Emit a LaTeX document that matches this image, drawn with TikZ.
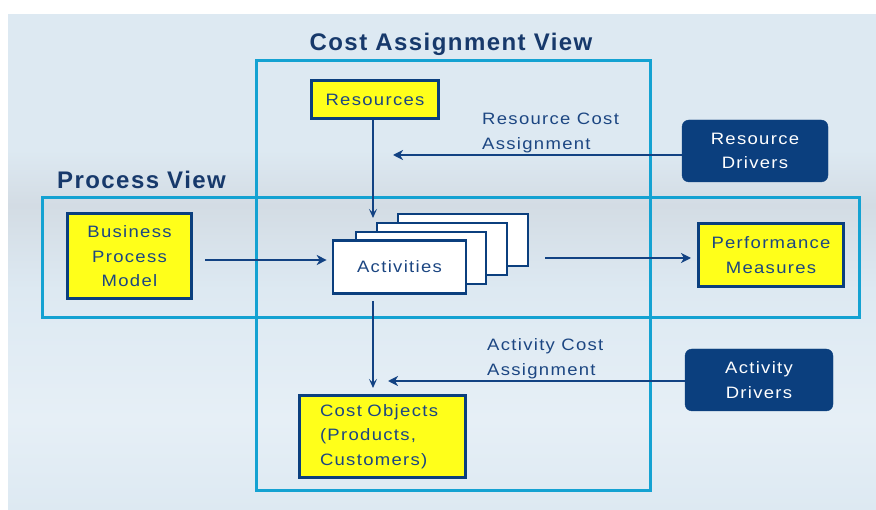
\documentclass[tikz,border=0pt]{standalone}
\usepackage{fontspec}
\setmainfont{Liberation Sans}[FakeStretch=1.12, LetterSpace=8]
\newfontfamily\titlefont{Liberation Sans}[LetterSpace=6]
\usetikzlibrary{arrows.meta}
\definecolor{navy}{HTML}{0B3F7E}
\definecolor{titleblue}{HTML}{17396B}
\definecolor{inkblue}{HTML}{1C4682}
\definecolor{arrowblue}{HTML}{124283}
\definecolor{cyanline}{HTML}{14A2D2}
\definecolor{panel}{HTML}{DDE9F2}
\definecolor{band}{HTML}{D3DCE4}
\definecolor{panellow}{HTML}{E6EFF6}
\definecolor{boxyellow}{HTML}{FFFF1A}
\tikzset{
  yellowbox/.style={draw=navy, line width=3pt, fill=boxyellow, text=inkblue,
    font=\fontsize{16.5}{24.5}\selectfont, align=center, inner sep=0pt},
  darkbox/.style={draw=navy, fill=navy, rounded corners=7pt, text=white,
    font=\fontsize{16.5}{24.5}\selectfont, align=center, inner sep=0pt},
  actbox/.style={draw=navy, line width=2.6pt, fill=white, minimum width=130pt,
    minimum height=52pt, inner sep=0pt},
  viewframe/.style={draw=cyanline, line width=3pt},
  viewtitle/.style={text=titleblue, font=\titlefont\bfseries\fontsize{24}{26}\selectfont},
  flow/.style={draw=arrowblue, line width=2.8pt, -{Stealth[length=10pt,width=10pt,inset=3pt]}},
  feed/.style={draw=arrowblue, line width=1.6pt, -{Stealth[length=9pt,width=8pt,inset=4pt]}},
  note/.style={text=inkblue, font=\fontsize{16.5}{25}\selectfont, align=left, inner sep=0pt}
}
\begin{document}
\begin{tikzpicture}[x=1pt,y=-1pt]
\useasboundingbox (0,0) rectangle (876,510);
% backdrop
\fill[white] (0,0) rectangle (876,510);
\fill[panel] (8,14) rectangle (876,510);
\shade[top color=panel, bottom color=band] (8,150) rectangle (876,205);
\shade[top color=band, bottom color=panel] (8,205) rectangle (876,290);
\shade[top color=panel, bottom color=panellow] (8,290) rectangle (876,420);
\shade[top color=panellow, bottom color=panel] (8,420) rectangle (876,510);

% view frames
\draw[viewframe] (256,61) rectangle (650,491);
\draw[viewframe] (42,198) rectangle (859,318);
\node[viewtitle] (cavtitle) at (451,44) {Cost Assignment View};
\node[viewtitle] (pvtitle) at (141.5,180) {Process View};

% boxes
\node[yellowbox, minimum width=127pt, minimum height=38pt] (res) at (375,100) {Resources};
\node[yellowbox, minimum width=124pt, minimum height=85pt] (bpm) at (129.5,256.5) {Business\\Process\\Model};
\node[yellowbox, minimum width=145pt, minimum height=63pt] (perf) at (771,255) {Performance\\Measures};
\node[yellowbox, minimum width=166pt, minimum height=82pt, align=left, text width=125pt] (cost) at (382.5,436.5) {Cost Objects\\(Products,\\Customers)};
\node[darkbox, minimum width=146pt, minimum height=62pt] (rdrv) at (755,151) {Resource\\Drivers};
\node[darkbox, minimum width=148pt, minimum height=62pt] (adrv) at (759,380) {Activity\\Drivers};

% stacked activity cards
\node[actbox] (act3) at (463,240) {};
\node[actbox] (act2) at (442,249) {};
\node[actbox] (act1) at (421,258) {};
\node[actbox, minimum width=133pt, minimum height=53pt, text=inkblue,
  font=\fontsize{16.5}{18}\selectfont] (act) at (399.5,267) {Activities};

% labels
\node[note, anchor=north west] (rcost) at (482,113) {Resource Cost\\Assignment};
\node[note, anchor=north west] (acost) at (487,338) {Activity Cost\\Assignment};

% connector end points
\coordinate (resin) at (373,218);
\coordinate (rdin) at (393,155);
\coordinate (costin) at (373,388);
\coordinate (adin) at (388,381);

% connectors
\draw[feed] (res.south -| resin) -- (resin);
\draw[flow] (rdrv.west |- rdin) -- (rdin);
\draw[flow, shorten <=12pt, shorten >=5pt] (bpm.east |- 0,260) -- (act.west |- 0,260);
\draw[flow, shorten <=16pt, shorten >=6pt] (act3.east |- 0,258) -- (perf.west |- 0,258);
\draw[feed, shorten <=6pt] (act.south -| costin) -- (costin);
\draw[flow] (adrv.west |- adin) -- (adin);
\end{tikzpicture}
\end{document}
